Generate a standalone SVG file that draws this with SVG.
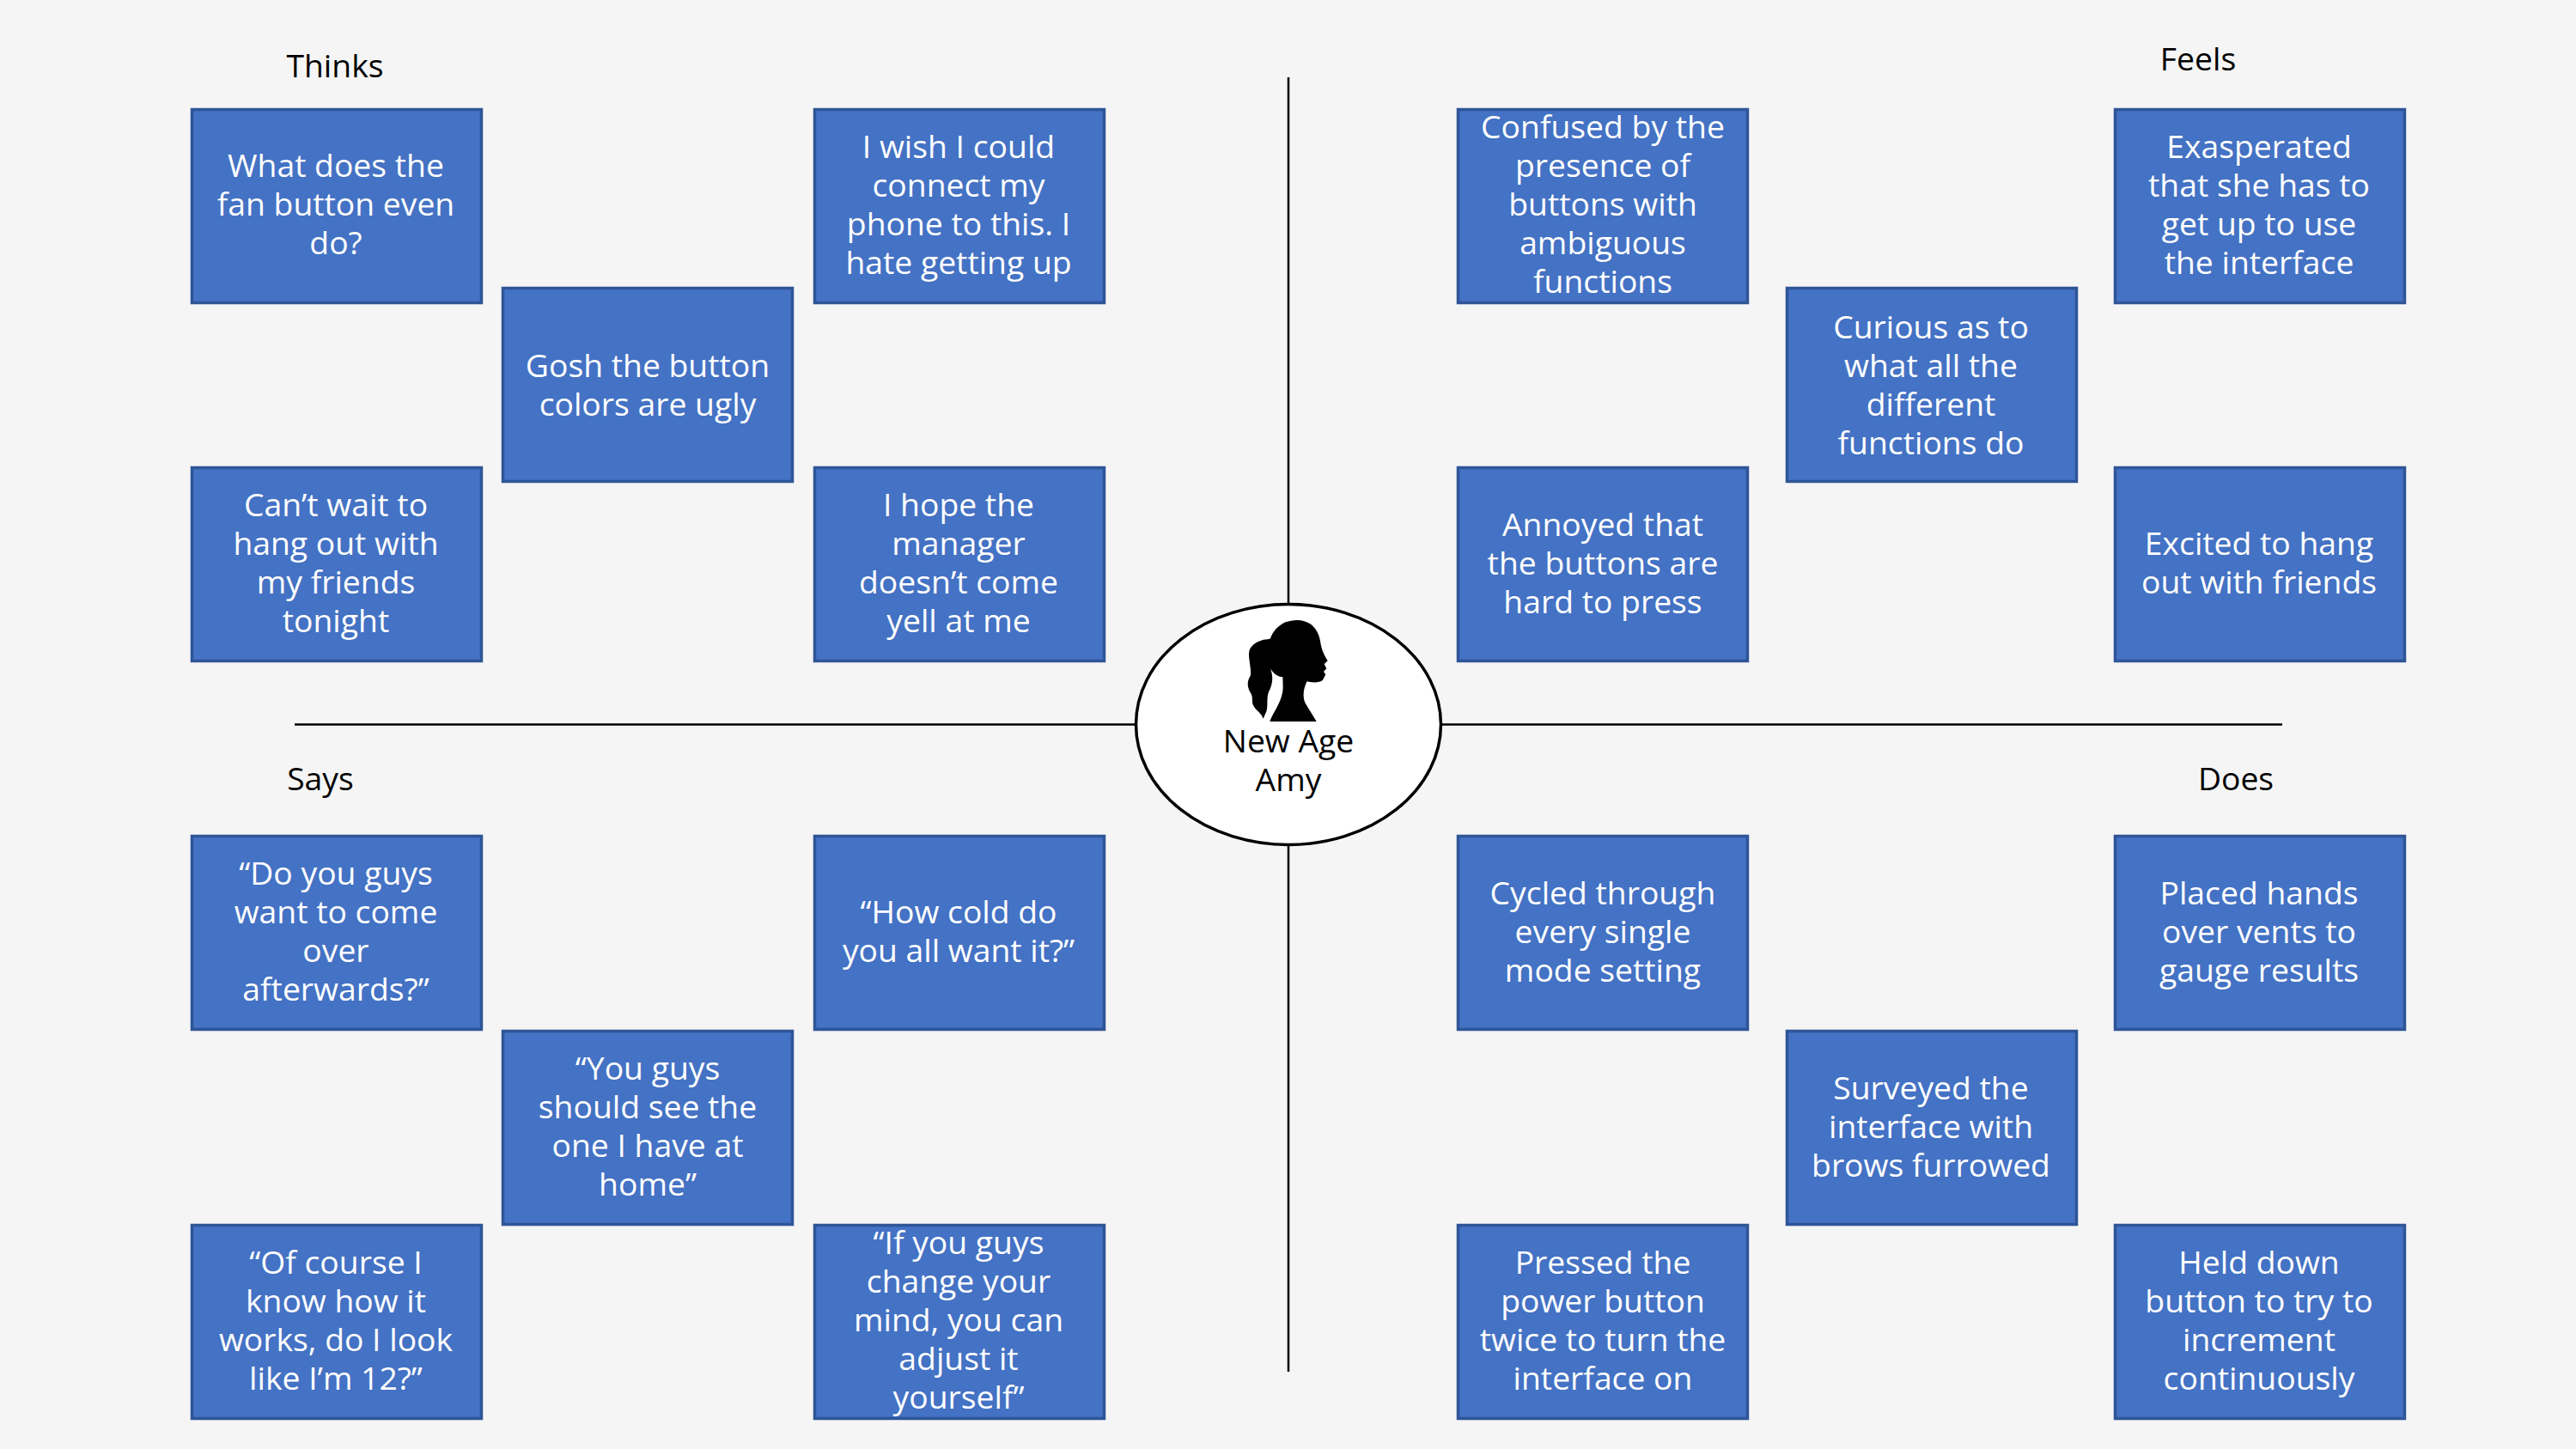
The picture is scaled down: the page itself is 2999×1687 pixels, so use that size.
<svg xmlns="http://www.w3.org/2000/svg" width="2999" height="1687" viewBox="0 0 2999 1687">
<style>
text{font-family:"Open Sans","Noto Sans",sans-serif;font-size:37.3px;text-anchor:middle}
.box rect{fill:#4472c4;stroke:#2f5597;stroke-width:3.5}
.box text{fill:#fff}
.lab text,.hub text{fill:#000}
.ln{stroke:#000;stroke-width:2.5;fill:none}
</style>
<rect width="2999" height="1687" fill="#f5f5f5"/>
<g id="connectors">
<line class="ln" x1="1500" y1="90" x2="1500" y2="1597"/>
<line class="ln" x1="343" y1="843.5" x2="2657" y2="843.5"/>
</g>
<g id="hub" class="hub">
<ellipse cx="1500" cy="843.5" rx="177.5" ry="140" fill="#fff" stroke="#000" stroke-width="3.5"/>
<path transform="translate(1280 680) scale(.33333)" fill="#000" d="M595 480C605 450 632 420 640 375C642 355 640 340 640 325C625 325 608 315 597 295C608 325 605 350 592 375C582 395 590 425 583 445L572 470C566 450 545 440 538 425C530 410 538 395 528 380C515 360 515 340 527 320C532 305 522 270 522 245C522 220 540 205 565 197C578 192 590 195 597 190C605 165 625 145 650 133C680 122 715 122 740 142C760 158 770 185 772 205C775 225 782 245 797 268L785 280L793 295L783 306L790 316L780 335C770 345 745 345 725 340C712 365 708 395 720 418L758 480Z"/>
<text x="1500" y="876">New Age</text>
<text x="1500" y="921">Amy</text>
</g>
<g id="labels" class="lab">
<text id="label-thinks" x="390" y="90">Thinks</text>
<text id="label-feels" x="2559" y="82">Feels</text>
<text id="label-says" x="373" y="920">Says</text>
<text id="label-does" x="2603" y="920">Does</text>
</g>
<g id="thinks-1" class="box"><rect x="223.5" y="127.5" width="337" height="225"/><text x="391" y="206">What does the</text><text x="391" y="251">fan button even</text><text x="391" y="296">do?</text></g>
<g id="thinks-2" class="box"><rect x="585.5" y="335.5" width="337" height="225"/><text x="754" y="439">Gosh the button</text><text x="754" y="484">colors are ugly</text></g>
<g id="thinks-3" class="box"><rect x="948.5" y="127.5" width="337" height="225"/><text x="1116" y="184">I wish I could</text><text x="1116" y="229">connect my</text><text x="1116" y="274">phone to this. I</text><text x="1116" y="319">hate getting up</text></g>
<g id="thinks-4" class="box"><rect x="223.5" y="544.5" width="337" height="225"/><text x="391" y="601">Can’t wait to</text><text x="391" y="646">hang out with</text><text x="391" y="691">my friends</text><text x="391" y="736">tonight</text></g>
<g id="thinks-5" class="box"><rect x="948.5" y="544.5" width="337" height="225"/><text x="1116" y="601">I hope the</text><text x="1116" y="646">manager</text><text x="1116" y="691">doesn’t come</text><text x="1116" y="736">yell at me</text></g>
<g id="feels-1" class="box"><rect x="1697.5" y="127.5" width="337" height="225"/><text x="1866" y="161">Confused by the</text><text x="1866" y="206">presence of</text><text x="1866" y="251">buttons with</text><text x="1866" y="296">ambiguous</text><text x="1866" y="341">functions</text></g>
<g id="feels-2" class="box"><rect x="2080.5" y="335.5" width="337" height="225"/><text x="2248" y="394">Curious as to</text><text x="2248" y="439">what all the</text><text x="2248" y="484">different</text><text x="2248" y="529">functions do</text></g>
<g id="feels-3" class="box"><rect x="2462.5" y="127.5" width="337" height="225"/><text x="2630" y="184">Exasperated</text><text x="2630" y="229">that she has to</text><text x="2630" y="274">get up to use</text><text x="2630" y="319">the interface</text></g>
<g id="feels-4" class="box"><rect x="1697.5" y="544.5" width="337" height="225"/><text x="1866" y="624">Annoyed that</text><text x="1866" y="669">the buttons are</text><text x="1866" y="714">hard to press</text></g>
<g id="feels-5" class="box"><rect x="2462.5" y="544.5" width="337" height="225"/><text x="2630" y="646">Excited to hang</text><text x="2630" y="691">out with friends</text></g>
<g id="says-1" class="box"><rect x="223.5" y="973.5" width="337" height="225"/><text x="391" y="1030">“Do you guys</text><text x="391" y="1075">want to come</text><text x="391" y="1120">over</text><text x="391" y="1165">afterwards?”</text></g>
<g id="says-2" class="box"><rect x="585.5" y="1200.5" width="337" height="225"/><text x="754" y="1257">“You guys</text><text x="754" y="1302">should see the</text><text x="754" y="1347">one I have at</text><text x="754" y="1392">home”</text></g>
<g id="says-3" class="box"><rect x="948.5" y="973.5" width="337" height="225"/><text x="1116" y="1075">“How cold do</text><text x="1116" y="1120">you all want it?”</text></g>
<g id="says-4" class="box"><rect x="223.5" y="1426.5" width="337" height="225"/><text x="391" y="1483">“Of course I</text><text x="391" y="1528">know how it</text><text x="391" y="1573">works, do I look</text><text x="391" y="1618">like I’m 12?”</text></g>
<g id="says-5" class="box"><rect x="948.5" y="1426.5" width="337" height="225"/><text x="1116" y="1460">“If you guys</text><text x="1116" y="1505">change your</text><text x="1116" y="1550">mind, you can</text><text x="1116" y="1595">adjust it</text><text x="1116" y="1640">yourself”</text></g>
<g id="does-1" class="box"><rect x="1697.5" y="973.5" width="337" height="225"/><text x="1866" y="1053">Cycled through</text><text x="1866" y="1098">every single</text><text x="1866" y="1143">mode setting</text></g>
<g id="does-2" class="box"><rect x="2080.5" y="1200.5" width="337" height="225"/><text x="2248" y="1280">Surveyed the</text><text x="2248" y="1325">interface with</text><text x="2248" y="1370">brows furrowed</text></g>
<g id="does-3" class="box"><rect x="2462.5" y="973.5" width="337" height="225"/><text x="2630" y="1053">Placed hands</text><text x="2630" y="1098">over vents to</text><text x="2630" y="1143">gauge results</text></g>
<g id="does-4" class="box"><rect x="1697.5" y="1426.5" width="337" height="225"/><text x="1866" y="1483">Pressed the</text><text x="1866" y="1528">power button</text><text x="1866" y="1573">twice to turn the</text><text x="1866" y="1618">interface on</text></g>
<g id="does-5" class="box"><rect x="2462.5" y="1426.5" width="337" height="225"/><text x="2630" y="1483">Held down</text><text x="2630" y="1528">button to try to</text><text x="2630" y="1573">increment</text><text x="2630" y="1618">continuously</text></g>
</svg>
